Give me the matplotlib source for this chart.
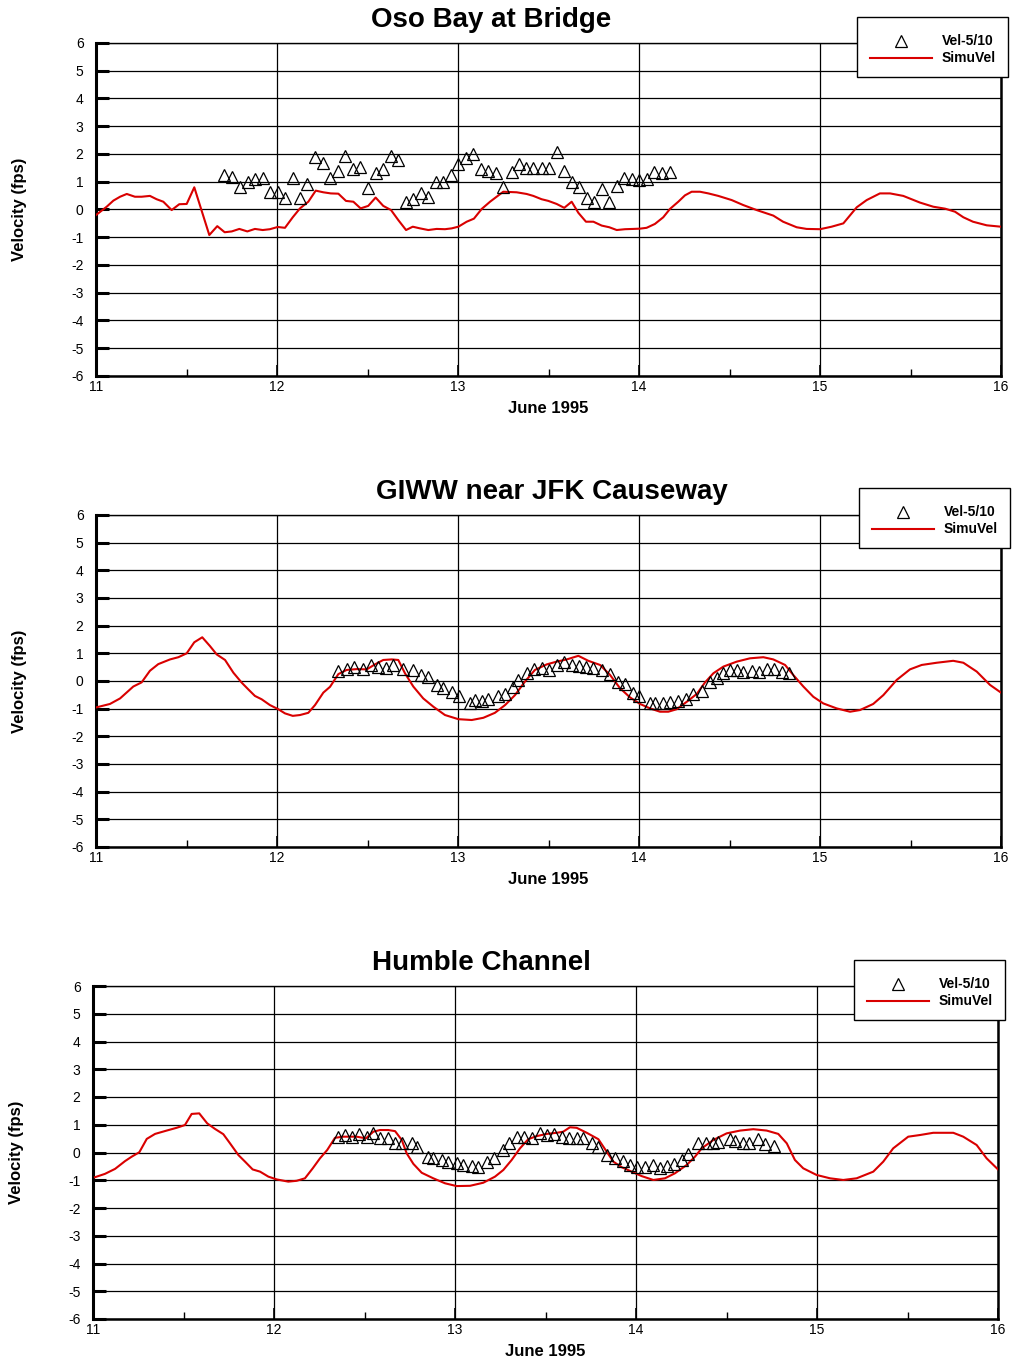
import numpy as np
import matplotlib
matplotlib.use("Agg")
import matplotlib.pyplot as plt
from matplotlib.lines import Line2D
from matplotlib.patches import Rectangle

plt.rcParams['font.family'] = ['Liberation Sans', 'DejaVu Sans']
plt.rcParams['axes.unicode_minus'] = False

# ---------------- data ----------------
titles = ["Oso Bay at Bridge", "GIWW near JFK Causeway", "Humble Channel"]
obs_label = "Vel-5/10"
sim_label = "SimuVel"
x_label = "June 1995"
y_label = "Velocity (fps)"
x_ticks = [11, 12, 13, 14, 15, 16]
y_ticks = [-6, -5, -4, -3, -2, -1, 0, 1, 2, 3, 4, 5, 6]

# Panel 1: Oso Bay at Bridge
sim1_t = [11.0, 11.059, 11.096, 11.133, 11.170, 11.215, 11.252, 11.298, 11.335, 11.372,
          11.418, 11.460, 11.501, 11.543, 11.626, 11.670, 11.711, 11.750, 11.792, 11.836,
          11.878, 11.921, 11.961, 12.004, 12.044, 12.087, 12.127, 12.173, 12.214, 12.256,
          12.297, 12.339, 12.381, 12.422, 12.462, 12.504, 12.545, 12.587, 12.630, 12.670,
          12.713, 12.750, 12.790, 12.836, 12.882, 12.928, 12.965, 13.002, 13.048, 13.088,
          13.131, 13.177, 13.250, 13.324, 13.379, 13.416, 13.462, 13.499, 13.545, 13.587,
          13.628, 13.665, 13.707, 13.748, 13.794, 13.836, 13.877, 13.923, 13.969, 14.006,
          14.042, 14.088, 14.134, 14.171, 14.217, 14.254, 14.291, 14.337, 14.383, 14.438,
          14.512, 14.576, 14.650, 14.742, 14.796, 14.871, 14.926, 15.0, 15.064, 15.129,
          15.203, 15.258, 15.331, 15.387, 15.460, 15.552, 15.626, 15.691, 15.746, 15.792,
          15.845, 15.921, 16.0]
sim1_v = [-0.2, 0.1, 0.32, 0.46, 0.56, 0.46, 0.46, 0.49, 0.37, 0.28,
          -0.02, 0.19, 0.2, 0.8, -0.92, -0.6, -0.82, -0.79, -0.7, -0.79,
          -0.7, -0.74, -0.71, -0.63, -0.66, -0.28, 0.04, 0.28, 0.68, 0.62,
          0.58, 0.57, 0.31, 0.28, 0.04, 0.13, 0.43, 0.13, -0.02, -0.38,
          -0.74, -0.62, -0.68, -0.74, -0.7, -0.71, -0.68, -0.62, -0.44, -0.33,
          0.02, 0.28, 0.64, 0.62, 0.56, 0.49, 0.37, 0.31, 0.2, 0.06,
          0.28, -0.12, -0.44, -0.44, -0.58, -0.64, -0.74, -0.71, -0.7, -0.69,
          -0.66, -0.52, -0.28, 0.02, 0.28, 0.51, 0.64, 0.64, 0.58, 0.49,
          0.34, 0.16, -0.02, -0.22, -0.44, -0.64, -0.7, -0.71, -0.62, -0.5,
          0.08, 0.34, 0.58, 0.58, 0.49, 0.25, 0.1, 0.03, -0.08, -0.28,
          -0.44, -0.57, -0.62]
obs1_t = [11.707, 11.753, 11.796, 11.838, 11.878, 11.921, 11.961, 12.004, 12.044, 12.087,
          12.127, 12.167, 12.210, 12.252, 12.293, 12.335, 12.376, 12.418, 12.459, 12.501,
          12.545, 12.587, 12.628, 12.670, 12.713, 12.753, 12.794, 12.836, 12.878, 12.919,
          12.961, 13.002, 13.044, 13.085, 13.125, 13.167, 13.210, 13.250, 13.297, 13.337,
          13.376, 13.416, 13.462, 13.504, 13.545, 13.586, 13.628, 13.670, 13.711, 13.751,
          13.794, 13.836, 13.877, 13.919, 13.963, 14.002, 14.046, 14.083, 14.129, 14.171]
obs1_v = [1.24, 1.18, 0.8, 0.98, 1.09, 1.12, 0.64, 0.64, 0.43, 1.15,
          0.4, 0.92, 1.9, 1.69, 1.15, 1.4, 1.93, 1.45, 1.54, 0.76,
          1.33, 1.45, 1.93, 1.78, 0.28, 0.37, 0.6, 0.46, 0.98, 0.98,
          1.24, 1.64, 1.84, 1.99, 1.45, 1.4, 1.3, 0.8, 1.34, 1.64,
          1.48, 1.48, 1.48, 1.48, 2.08, 1.4, 0.98, 0.82, 0.4, 0.26,
          0.73, 0.26, 0.86, 1.12, 1.1, 1.06, 1.1, 1.36, 1.33, 1.36]

# Panel 2: GIWW near JFK Causeway
sim2_t = [11.004, 11.077, 11.133, 11.206, 11.252, 11.298, 11.344, 11.409, 11.455, 11.501,
          11.543, 11.587, 11.630, 11.667, 11.713, 11.759, 11.805, 11.841, 11.878, 11.915,
          11.961, 12.007, 12.044, 12.087, 12.127, 12.173, 12.210, 12.256, 12.293, 12.339,
          12.385, 12.440, 12.496, 12.541, 12.587, 12.634, 12.670, 12.707, 12.753, 12.808,
          12.864, 12.928, 13.002, 13.076, 13.140, 13.204, 13.260, 13.315, 13.370, 13.425,
          13.490, 13.545, 13.601, 13.665, 13.720, 13.785, 13.840, 13.895, 13.950, 14.006,
          14.061, 14.116, 14.162, 14.208, 14.264, 14.319, 14.365, 14.411, 14.466, 14.540,
          14.613, 14.687, 14.742, 14.807, 14.852, 14.908, 14.963, 15.018, 15.092, 15.166,
          15.221, 15.294, 15.350, 15.424, 15.497, 15.562, 15.645, 15.736, 15.792, 15.866,
          15.939, 16.0]
sim2_v = [-0.95, -0.83, -0.63, -0.2, -0.05, 0.37, 0.61, 0.78, 0.86, 1.0,
          1.4, 1.58, 1.26, 0.96, 0.76, 0.3, -0.06, -0.3, -0.54, -0.66,
          -0.87, -1.02, -1.17, -1.26, -1.23, -1.15, -0.87, -0.42, -0.21, 0.25,
          0.4, 0.43, 0.42, 0.6, 0.76, 0.78, 0.76, 0.28, -0.2, -0.63,
          -0.93, -1.23, -1.38, -1.41, -1.33, -1.15, -0.87, -0.51, -0.02, 0.4,
          0.6, 0.7, 0.78, 0.91, 0.73, 0.58, 0.22, -0.26, -0.59, -0.83,
          -0.99, -1.11, -1.11, -1.02, -0.75, -0.47, -0.05, 0.28, 0.52, 0.7,
          0.82, 0.86, 0.78, 0.58, 0.22, -0.2, -0.57, -0.81, -0.99, -1.11,
          -1.05, -0.83, -0.51, 0.04, 0.42, 0.58, 0.66, 0.73, 0.66, 0.34,
          -0.14, -0.42]
obs2_t = [12.339, 12.385, 12.427, 12.473, 12.519, 12.560, 12.602, 12.643, 12.698, 12.750,
          12.794, 12.836, 12.882, 12.919, 12.965, 13.007, 13.066, 13.094, 13.131, 13.167,
          13.223, 13.260, 13.306, 13.333, 13.383, 13.420, 13.462, 13.503, 13.549, 13.587,
          13.628, 13.670, 13.709, 13.748, 13.794, 13.840, 13.886, 13.923, 13.969, 14.002,
          14.061, 14.088, 14.134, 14.171, 14.217, 14.260, 14.300, 14.346, 14.392, 14.429,
          14.466, 14.503, 14.540, 14.576, 14.623, 14.665, 14.706, 14.746, 14.788, 14.830]
obs2_v = [0.37, 0.45, 0.52, 0.45, 0.58, 0.52, 0.48, 0.58, 0.43, 0.4,
          0.22, 0.13, -0.14, -0.26, -0.39, -0.54, -0.78, -0.69, -0.71, -0.65,
          -0.54, -0.48, -0.2, 0.04, 0.3, 0.42, 0.48, 0.4, 0.58, 0.7,
          0.58, 0.54, 0.5, 0.48, 0.4, 0.25, -0.02, -0.11, -0.44, -0.54,
          -0.81, -0.81, -0.81, -0.75, -0.72, -0.66, -0.47, -0.36, -0.02, 0.1,
          0.28, 0.4, 0.4, 0.31, 0.37, 0.34, 0.42, 0.42, 0.31, 0.28]

# Panel 3: Humble Channel
sim3_t = [11.011, 11.066, 11.122, 11.177, 11.214, 11.256, 11.297, 11.343, 11.407, 11.462,
          11.508, 11.545, 11.587, 11.631, 11.674, 11.720, 11.757, 11.803, 11.840, 11.882,
          11.923, 11.969, 12.015, 12.079, 12.125, 12.171, 12.214, 12.254, 12.294, 12.337,
          12.383, 12.457, 12.508, 12.549, 12.586, 12.631, 12.669, 12.706, 12.733, 12.770,
          12.816, 12.880, 12.945, 13.009, 13.083, 13.156, 13.221, 13.267, 13.313, 13.359,
          13.405, 13.451, 13.507, 13.562, 13.598, 13.635, 13.672, 13.728, 13.792, 13.838,
          13.875, 13.921, 13.976, 14.031, 14.096, 14.160, 14.215, 14.280, 14.326, 14.363,
          14.427, 14.501, 14.575, 14.648, 14.722, 14.786, 14.833, 14.878, 14.924, 14.998,
          15.072, 15.145, 15.219, 15.311, 15.366, 15.421, 15.504, 15.569, 15.642, 15.753,
          15.808, 15.882, 15.937, 16.0]
sim3_v = [-0.89, -0.77, -0.59, -0.31, -0.15, 0.01, 0.49, 0.67, 0.79, 0.89,
          0.99, 1.39, 1.41, 1.05, 0.85, 0.66, 0.33, -0.09, -0.33, -0.61,
          -0.69, -0.87, -0.97, -1.05, -1.02, -0.93, -0.57, -0.21, 0.09, 0.53,
          0.57, 0.57, 0.51, 0.75, 0.81, 0.81, 0.77, 0.45, -0.03, -0.41,
          -0.73, -0.93, -1.11, -1.21, -1.2, -1.09, -0.87, -0.63, -0.27, 0.15,
          0.48, 0.59, 0.67, 0.71, 0.75, 0.91, 0.89, 0.71, 0.48, 0.03,
          -0.33, -0.53, -0.69, -0.85, -0.99, -0.93, -0.75, -0.45, -0.15, 0.15,
          0.45, 0.69, 0.79, 0.84, 0.79, 0.67, 0.33, -0.27, -0.57, -0.81,
          -0.93, -0.99, -0.93, -0.69, -0.33, 0.15, 0.57, 0.63, 0.71, 0.71,
          0.57, 0.27, -0.21, -0.61]
obs3_t = [12.355, 12.392, 12.433, 12.471, 12.512, 12.549, 12.586, 12.628, 12.669, 12.706,
          12.761, 12.792, 12.852, 12.880, 12.927, 12.963, 13.009, 13.046, 13.092, 13.129,
          13.175, 13.217, 13.267, 13.300, 13.341, 13.381, 13.427, 13.470, 13.507, 13.547,
          13.590, 13.631, 13.672, 13.709, 13.755, 13.792, 13.838, 13.884, 13.927, 13.967,
          14.007, 14.050, 14.096, 14.133, 14.170, 14.210, 14.252, 14.289, 14.344, 14.387,
          14.427, 14.455, 14.519, 14.547, 14.590, 14.626, 14.676, 14.713, 14.762]
obs3_v = [0.57, 0.63, 0.57, 0.67, 0.57, 0.69, 0.51, 0.51, 0.35, 0.33,
          0.33, 0.19, -0.15, -0.21, -0.27, -0.33, -0.39, -0.45, -0.49, -0.53,
          -0.33, -0.21, 0.09, 0.33, 0.57, 0.57, 0.53, 0.71, 0.63, 0.67,
          0.57, 0.53, 0.51, 0.53, 0.35, 0.21, -0.09, -0.19, -0.31, -0.45,
          -0.51, -0.53, -0.45, -0.57, -0.49, -0.41, -0.27, -0.05, 0.33, 0.33,
          0.35, 0.37, 0.48, 0.43, 0.35, 0.35, 0.49, 0.31, 0.23]

# ---------------- layout ----------------
W, H = 1013, 1362
fig = plt.figure(figsize=(W / 100, H / 100), dpi=100)


def fx(px):
    return px / W


def fy(py):
    return 1 - py / H


panels = [
    dict(l=96, r=1001, t=43, b=376, title_x=491, title_y=20, leg=(857, 17),
         sim=(sim1_t, sim1_v), obs=(obs1_t, obs1_v), title=titles[0]),
    dict(l=96, r=1001, t=515, b=847, title_x=552, title_y=492, leg=(859, 488),
         sim=(sim2_t, sim2_v), obs=(obs2_t, obs2_v), title=titles[1]),
    dict(l=93, r=998, t=986, b=1319, title_x=481, title_y=963, leg=(854, 960),
         sim=(sim3_t, sim3_v), obs=(obs3_t, obs3_v), title=titles[2]),
]

red = '#d90000'
for p in panels:
    ax = fig.add_axes([fx(p['l']), fy(p['b']), fx(p['r'] - p['l']), (p['b'] - p['t']) / H])
    ax.set_xlim(11, 16)
    ax.set_ylim(-6, 6)
    ax.set_xticks(x_ticks)
    ax.set_yticks(y_ticks)
    ax.set_xticks([11.5, 12.5, 13.5, 14.5, 15.5], minor=True)
    ax.grid(True, which='major', axis='both', color='black', lw=0.9)
    ax.set_axisbelow(True)
    for s in ax.spines.values():
        s.set_color('black')
        s.set_linewidth(1.0)
    ax.spines['left'].set_linewidth(2.2)
    ax.spines['bottom'].set_linewidth(1.8)
    ax.spines['right'].set_linewidth(1.8)
    ax.tick_params(axis='y', which='major', direction='in', length=9, width=2.2,
                   labelsize=10, pad=9)
    ax.tick_params(axis='x', which='major', direction='in', length=8, width=1.2,
                   labelsize=10, pad=3)
    ax.tick_params(axis='x', which='minor', direction='in', length=5, width=1.0)
    ax.plot(p['sim'][0], p['sim'][1], color=red, lw=1.5, zorder=3)
    ax.plot(p['obs'][0], p['obs'][1], linestyle='none', marker='^', ms=8.5,
            mfc='none', mec='black', mew=0.9, zorder=4)
    ax.set_xlabel(x_label, fontsize=12, fontweight='bold', labelpad=5)
    ax.set_ylabel(y_label, fontsize=12, fontweight='bold', labelpad=32)
    fig.text(fx(p['title_x']), fy(p['title_y']), p['title'], fontsize=20,
             fontweight='bold', ha='center', va='center')
    # legend box drawn manually
    l, t = p['leg']
    fig.patches.append(Rectangle((fx(l), fy(t + 60)), fx(151), 60 / H,
                                 transform=fig.transFigure, facecolor='white',
                                 edgecolor='black', lw=1.0, zorder=10))
    fig.lines.append(Line2D([fx(l + 44)], [fy(t + 24)], transform=fig.transFigure,
                            linestyle='none', marker='^', ms=8, mfc='none', mec='black',
                            mew=0.9, zorder=11))
    fig.lines.append(Line2D([fx(l + 13), fx(l + 75)], [fy(t + 41), fy(t + 41)],
                            transform=fig.transFigure, color=red, lw=1.5, zorder=11))
    fig.text(fx(l + 85), fy(t + 24), obs_label, fontsize=10, fontweight='bold',
             ha='left', va='center', zorder=12)
    fig.text(fx(l + 85), fy(t + 41), sim_label, fontsize=10, fontweight='bold',
             ha='left', va='center', zorder=12)

fig.savefig('out.png', dpi=100)
